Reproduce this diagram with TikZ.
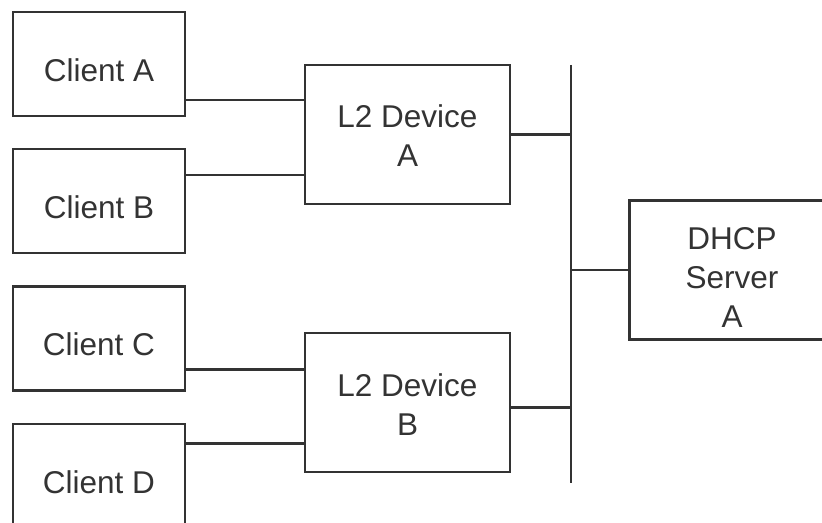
\documentclass[tikz,border=0pt]{standalone}
\usepackage{fontspec}
\setmainfont{Liberation Sans}
\usetikzlibrary{positioning}

\begin{document}
\begin{tikzpicture}[
    x=0.5pt, y=-0.5pt,
    line width=1.1pt, color=black!80,
    node distance=15.5pt and 60pt,
    every node/.style={font=\fontsize{15.75}{19.5}\selectfont},
    client/.style={rectangle, draw, minimum width=86pt, minimum height=52pt, text height=17.5pt, text depth=0pt},
    device/.style={rectangle, draw, minimum width=102.5pt, minimum height=69.5pt, align=center, text height=32.5pt, text depth=0pt}
]
\useasboundingbox (0,0) rectangle (822,523);
\clip (0,0) rectangle (822,523);

\node[client] (clientA) at (99,64) {Client A};
\node[client, below=of clientA] (clientB) {Client B};
\node[client, below=of clientB] (clientC) {Client C};
\node[client, below=of clientC] (clientD) {Client D};

\node[device] (l2a) at (407.5,134.5) {L2 Device\\A};
\node[device] (l2b) at (407.5,402.5) {L2 Device\\B};
\node[device, text height=57.5pt] (dhcp) at (732,270) {DHCP\\Server\\A};

% shared segment
\coordinate (bustop) at (571,65);
\coordinate (busbot) at (571,483);
\draw (bustop) -- (busbot);

\draw ([yshift=8.5pt]clientA.south east) coordinate (ca) -- (ca -| l2a.west);
\draw ([yshift=-13.5pt]clientB.north east) coordinate (cb) -- (cb -| l2a.west);
\draw ([yshift=11pt]clientC.south east) coordinate (cc) -- (cc -| l2b.west);
\draw ([yshift=-10.5pt]clientD.north east) coordinate (cd) -- (cd -| l2b.west);

\draw (l2a.east) -- (l2a.east -| bustop);
\draw ([yshift=-2.5pt]l2b.east) coordinate (lb) -- (lb -| bustop);
\draw (dhcp.west) -- (dhcp.west -| bustop);

\end{tikzpicture}
\end{document}
